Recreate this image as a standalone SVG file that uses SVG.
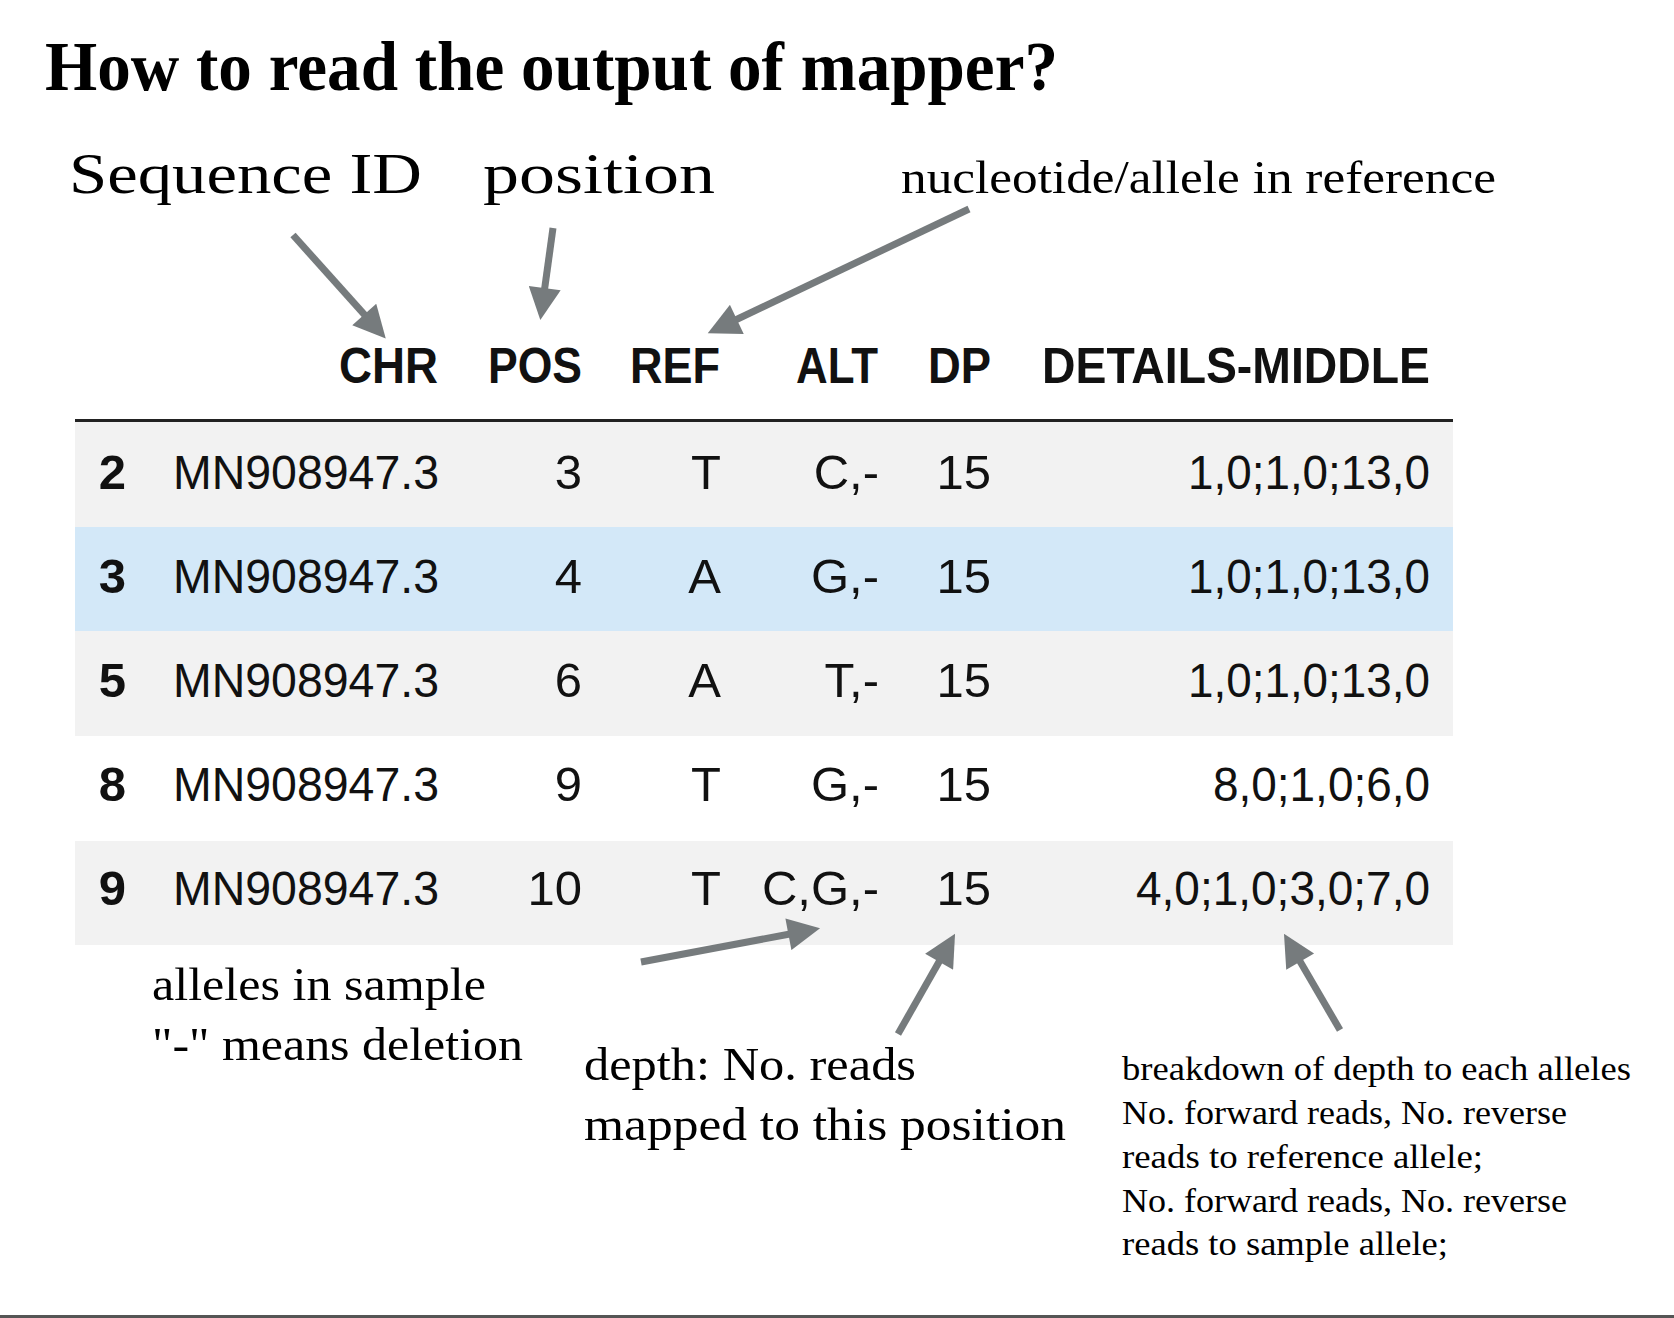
<svg xmlns="http://www.w3.org/2000/svg" width="1674" height="1318" viewBox="0 0 1674 1318">
<defs>
<style>
.title{font-family:"Liberation Serif","Times New Roman",serif;font-weight:bold;fill:#000}
.serif{font-family:"Liberation Serif","Times New Roman",serif;fill:#000}
.hdr{font-family:"Liberation Sans",Arial,sans-serif;font-weight:bold;font-size:50px;fill:#111;text-anchor:end}
.cell{font-family:"Liberation Sans",Arial,sans-serif;font-size:49px;fill:#111;text-anchor:end}
.idx{font-family:"Liberation Sans",Arial,sans-serif;font-weight:bold;font-size:49px;fill:#111;text-anchor:end}
.arrow{stroke:#767b7d;stroke-width:7;fill:none;marker-end:url(#head)}
</style>
<marker id="head" viewBox="0 0 10 10" refX="3" refY="5" markerWidth="5" markerHeight="4.6" markerUnits="strokeWidth" orient="auto">
<path d="M0,0 L10,5 L0,10 z" fill="#767b7d"/>
</marker>
</defs>
<rect width="1674" height="1318" fill="#fff"/>

<g id="title">
<text class="title" x="45" y="90" font-size="70" textLength="1013" lengthAdjust="spacingAndGlyphs">How to read the output of mapper?</text>
</g>

<g id="label-seqid">
<text class="serif" x="69" y="193" font-size="58" textLength="353" lengthAdjust="spacingAndGlyphs">Sequence ID</text>
</g>
<g id="label-position">
<text class="serif" x="483" y="193" font-size="58" textLength="232" lengthAdjust="spacingAndGlyphs">position</text>
</g>
<g id="label-ref">
<text class="serif" x="901" y="193" font-size="46" textLength="595" lengthAdjust="spacingAndGlyphs">nucleotide/allele in reference</text>
</g>

<g id="table">
<g id="rows-bg">
<rect x="75" y="421" width="1378" height="106" fill="#f2f2f2"/>
<rect x="75" y="527" width="1378" height="104" fill="#d3e8f8"/>
<rect x="75" y="631" width="1378" height="105" fill="#f2f2f2"/>
<rect x="75" y="841" width="1378" height="104" fill="#f2f2f2"/>
</g>
<rect x="75" y="419" width="1378" height="3" fill="#222"/>
<g id="header">
<text class="hdr" x="438" y="383" textLength="99" lengthAdjust="spacingAndGlyphs">CHR</text>
<text class="hdr" x="582" y="383" textLength="94" lengthAdjust="spacingAndGlyphs">POS</text>
<text class="hdr" x="720" y="383" textLength="90" lengthAdjust="spacingAndGlyphs">REF</text>
<text class="hdr" x="878" y="383" textLength="82" lengthAdjust="spacingAndGlyphs">ALT</text>
<text class="hdr" x="991" y="383" textLength="63" lengthAdjust="spacingAndGlyphs">DP</text>
<text class="hdr" x="1430" y="383" textLength="388" lengthAdjust="spacingAndGlyphs">DETAILS-MIDDLE</text>
</g>
<g id="row-2">
<text class="idx" x="126" y="489">2</text>
<text class="cell" x="439" y="489" textLength="266" lengthAdjust="spacingAndGlyphs">MN908947.3</text>
<text class="cell" x="582" y="489">3</text>
<text class="cell" x="721" y="489">T</text>
<text class="cell" x="879" y="489">C,-</text>
<text class="cell" x="991" y="489">15</text>
<text class="cell" x="1430" y="489" textLength="242" lengthAdjust="spacingAndGlyphs">1,0;1,0;13,0</text>
</g>
<g id="row-3">
<text class="idx" x="126" y="593">3</text>
<text class="cell" x="439" y="593" textLength="266" lengthAdjust="spacingAndGlyphs">MN908947.3</text>
<text class="cell" x="582" y="593">4</text>
<text class="cell" x="721" y="593">A</text>
<text class="cell" x="879" y="593">G,-</text>
<text class="cell" x="991" y="593">15</text>
<text class="cell" x="1430" y="593" textLength="242" lengthAdjust="spacingAndGlyphs">1,0;1,0;13,0</text>
</g>
<g id="row-5">
<text class="idx" x="126" y="697">5</text>
<text class="cell" x="439" y="697" textLength="266" lengthAdjust="spacingAndGlyphs">MN908947.3</text>
<text class="cell" x="582" y="697">6</text>
<text class="cell" x="721" y="697">A</text>
<text class="cell" x="879" y="697">T,-</text>
<text class="cell" x="991" y="697">15</text>
<text class="cell" x="1430" y="697" textLength="242" lengthAdjust="spacingAndGlyphs">1,0;1,0;13,0</text>
</g>
<g id="row-8">
<text class="idx" x="126" y="801">8</text>
<text class="cell" x="439" y="801" textLength="266" lengthAdjust="spacingAndGlyphs">MN908947.3</text>
<text class="cell" x="582" y="801">9</text>
<text class="cell" x="721" y="801">T</text>
<text class="cell" x="879" y="801">G,-</text>
<text class="cell" x="991" y="801">15</text>
<text class="cell" x="1430" y="801" textLength="217" lengthAdjust="spacingAndGlyphs">8,0;1,0;6,0</text>
</g>
<g id="row-9">
<text class="idx" x="126" y="905">9</text>
<text class="cell" x="439" y="905" textLength="266" lengthAdjust="spacingAndGlyphs">MN908947.3</text>
<text class="cell" x="582" y="905">10</text>
<text class="cell" x="721" y="905">T</text>
<text class="cell" x="879" y="905">C,G,-</text>
<text class="cell" x="991" y="905">15</text>
<text class="cell" x="1430" y="905" textLength="294" lengthAdjust="spacingAndGlyphs">4,0;1,0;3,0;7,0</text>
</g>
</g>

<g id="label-alt">
<text class="serif" x="152" y="1000" font-size="47" textLength="334" lengthAdjust="spacingAndGlyphs">alleles in sample</text>
<text class="serif" x="152" y="1060" font-size="47" textLength="371" lengthAdjust="spacingAndGlyphs">"-" means deletion</text>
</g>
<g id="label-depth">
<text class="serif" x="584" y="1080" font-size="47" textLength="332" lengthAdjust="spacingAndGlyphs">depth: No. reads</text>
<text class="serif" x="584" y="1140" font-size="47" textLength="482" lengthAdjust="spacingAndGlyphs">mapped to this position</text>
</g>
<g id="label-details">
<text class="serif" x="1122" y="1080" font-size="33" textLength="509" lengthAdjust="spacingAndGlyphs">breakdown of depth to each alleles</text>
<text class="serif" x="1122" y="1124" font-size="33" textLength="445" lengthAdjust="spacingAndGlyphs">No. forward reads, No. reverse</text>
<text class="serif" x="1122" y="1168" font-size="33" textLength="361" lengthAdjust="spacingAndGlyphs">reads to reference allele;</text>
<text class="serif" x="1122" y="1212" font-size="33" textLength="445" lengthAdjust="spacingAndGlyphs">No. forward reads, No. reverse</text>
<text class="serif" x="1122" y="1255" font-size="33" textLength="326" lengthAdjust="spacingAndGlyphs">reads to sample allele;</text>
</g>

<g id="connectors">
<line class="arrow" x1="293" y1="235" x2="370.7" y2="321.7"/>
<line class="arrow" x1="553" y1="228" x2="543.4" y2="297.7"/>
<line class="arrow" x1="969" y1="209" x2="728.1" y2="323.5"/>
<line class="arrow" x1="641" y1="962" x2="797.9" y2="932.5"/>
<line class="arrow" x1="898" y1="1034" x2="943.9" y2="953.3"/>
<line class="arrow" x1="1340" y1="1030" x2="1295.3" y2="953.2"/>
</g>

<rect x="0" y="1315" width="1674" height="3" fill="#555"/>
</svg>
